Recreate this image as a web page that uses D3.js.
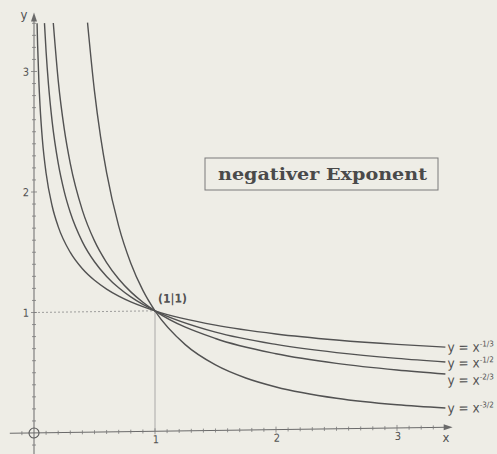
<!DOCTYPE html>
<html>
<head>
<meta charset="utf-8">
<script src="https://cdn.jsdelivr.net/npm/d3@7"></script>
<style>
  html, body { margin: 0; padding: 0; background: #eeede6; }
  svg { display: block; }
</style>
</head>
<body>
<script>
// points (x, y in axis units)
var xThird = [0.0254, 0.03, 0.04, 0.05, 0.07, 0.1, 0.15, 0.2, 0.3, 0.4, 0.5, 0.6, 0.7, 0.8, 0.9, 1, 1.5, 2, 2.5, 3, 3.4];
var yThird = [3.4, 3.218, 2.924, 2.714, 2.426, 2.154, 1.882, 1.71, 1.494, 1.357, 1.26, 1.186, 1.126, 1.077, 1.036, 1, 0.874, 0.794, 0.737, 0.693, 0.665];

var xHalf = [0.0865, 0.1, 0.12, 0.15, 0.2, 0.25, 0.3, 0.4, 0.5, 0.6, 0.7, 0.8, 0.9, 1, 1.5, 2, 2.5, 3, 3.4];
var yHalf = [3.4, 3.162, 2.887, 2.582, 2.236, 2.0, 1.826, 1.581, 1.414, 1.291, 1.195, 1.118, 1.054, 1, 0.816, 0.707, 0.632, 0.577, 0.542];

var xTwoThirds = [0.1595, 0.2, 0.25, 0.3, 0.4, 0.5, 0.6, 0.7, 0.8, 0.9, 1, 1.5, 2, 2.5, 3, 3.4];
var yTwoThirds = [3.4, 2.924, 2.52, 2.231, 1.842, 1.587, 1.406, 1.268, 1.16, 1.073, 1, 0.763, 0.63, 0.543, 0.481, 0.442];

var xThreeHalves = [0.4423, 0.5, 0.55, 0.6, 0.7, 0.8, 0.9, 1, 1.25, 1.5, 1.75, 2, 2.5, 3, 3.4];
var yThreeHalves = [3.4, 2.828, 2.452, 2.152, 1.707, 1.398, 1.171, 1, 0.716, 0.544, 0.432, 0.354, 0.253, 0.192, 0.16];

var curveLabels = ['-1/3', '-1/2', '-2/3', '-3/2'];
var xTickLabels = [1, 2, 3];
var yTickLabels = [1, 2, 3];
var title = 'negativer Exponent';
var pointLabel = '(1|1)';

var width = 497, height = 454;
var originX = 34, originY = 433;
var ink = '#525252';
var condensed = '"DejaVu Sans Condensed", "Liberation Sans Narrow", sans-serif';

var xScale = d3.scaleLinear().domain([0, 1]).range([0, 121]);
var yScale = d3.scaleLinear().domain([0, 1]).range([0, -120.5]);

var svg = d3.select('body').append('svg')
    .attr('width', width)
    .attr('height', height);

svg.append('rect')
    .attr('width', width)
    .attr('height', height)
    .attr('fill', '#eeede6');

// the printed page is slightly skewed, so the plot group is too
var g = svg.append('g')
    .attr('transform', 'translate(' + originX + ',' + originY + ') skewY(-0.8)');

// guide lines to (1|1)
g.append('line')
    .attr('x1', xScale(0)).attr('y1', yScale(1))
    .attr('x2', xScale(1)).attr('y2', yScale(1))
    .attr('stroke', '#8a8a8a')
    .attr('stroke-width', 0.8)
    .attr('stroke-dasharray', '2,2');

g.append('line')
    .attr('x1', xScale(1)).attr('y1', yScale(1))
    .attr('x2', xScale(1)).attr('y2', yScale(0))
    .attr('stroke', '#9a9a9a')
    .attr('stroke-width', 0.8);

// axes
g.append('line')
    .attr('x1', xScale(-0.2)).attr('y1', 0)
    .attr('x2', xScale(3.42)).attr('y2', 0)
    .attr('stroke', '#6a6a6a')
    .attr('stroke-width', 1);

g.append('path')
    .attr('d', 'M' + xScale(3.46) + ',0 l-9,-3 l0,6 z')
    .attr('fill', '#6a6a6a');

g.append('line')
    .attr('x1', 0).attr('y1', yScale(-0.18))
    .attr('x2', 0).attr('y2', yScale(3.44))
    .attr('stroke', '#6a6a6a')
    .attr('stroke-width', 1);

g.append('path')
    .attr('d', 'M0,' + yScale(3.49) + ' l-3,9 l6,0 z')
    .attr('fill', '#6a6a6a');

var xMinor = d3.range(-1, 34).map(function(i) { return i / 10; }).filter(function(v) { return v !== 0; });
var yMinor = d3.range(-1, 35).map(function(i) { return i / 10; }).filter(function(v) { return v !== 0; });

g.selectAll('.xtick')
  .data(xMinor)
  .enter()
  .append('line')
    .attr('class', 'xtick')
    .attr('x1', function(d) { return xScale(d); })
    .attr('x2', function(d) { return xScale(d); })
    .attr('y1', function(d) { return Math.abs(d % 1) < 1e-9 ? -3 : -2; })
    .attr('y2', function(d) { return Math.abs(d % 1) < 1e-9 ? 3 : 2; })
    .attr('stroke', '#7a7a7a')
    .attr('stroke-width', 0.8);

g.selectAll('.ytick')
  .data(yMinor)
  .enter()
  .append('line')
    .attr('class', 'ytick')
    .attr('y1', function(d) { return yScale(d); })
    .attr('y2', function(d) { return yScale(d); })
    .attr('x1', function(d) { return Math.abs(d % 1) < 1e-9 ? -3 : -2; })
    .attr('x2', function(d) { return Math.abs(d % 1) < 1e-9 ? 3 : 2; })
    .attr('stroke', '#7a7a7a')
    .attr('stroke-width', 0.8);

g.selectAll('.xlabel')
  .data(xTickLabels)
  .enter()
  .append('text')
    .attr('class', 'xlabel')
    .attr('x', function(d) { return xScale(d) + 1; })
    .attr('y', 12)
    .attr('text-anchor', 'middle')
    .attr('font-family', condensed)
    .attr('font-size', 11)
    .attr('fill', ink)
    .text(function(d) { return d; });

g.selectAll('.ylabel')
  .data(yTickLabels)
  .enter()
  .append('text')
    .attr('class', 'ylabel')
    .attr('x', -5)
    .attr('y', function(d) { return yScale(d) + 4; })
    .attr('text-anchor', 'end')
    .attr('font-family', condensed)
    .attr('font-size', 11)
    .attr('fill', ink)
    .text(function(d) { return d; });

g.append('circle')
    .attr('cx', 0)
    .attr('cy', 0)
    .attr('r', 5)
    .attr('fill', 'none')
    .attr('stroke', '#5a5a5a')
    .attr('stroke-width', 1.1);

// curves
var series = [
  {xs: xThird, ys: yThird},
  {xs: xHalf, ys: yHalf},
  {xs: xTwoThirds, ys: yTwoThirds},
  {xs: xThreeHalves, ys: yThreeHalves}
];

var line = d3.line()
    .x(function(d) { return xScale(d[0]); })
    .y(function(d) { return yScale(d[1]); })
    .curve(d3.curveMonotoneX);

series.forEach(function(s) {
  g.append('path')
      .attr('d', line(d3.zip(s.xs, s.ys)))
      .attr('fill', 'none')
      .attr('stroke', ink)
      .attr('stroke-width', 1.4);
});

// curve labels
var labelShift = [0, 1, 6, 0];
series.forEach(function(s, i) {
  var n = s.xs.length - 1;
  var t = g.append('text')
      .attr('x', xScale(s.xs[n]) + 2)
      .attr('y', yScale(s.ys[n]) + 5 + labelShift[i])
      .attr('font-family', condensed)
      .attr('font-size', 13.5)
      .attr('fill', ink);
  t.append('tspan').text('y = x');
  t.append('tspan')
      .attr('dy', -5)
      .attr('font-size', 8)
      .text(curveLabels[i]);
});

g.append('text')
    .attr('x', xScale(1) + 3)
    .attr('y', yScale(1) - 8)
    .attr('font-family', condensed)
    .attr('font-weight', 'bold')
    .attr('font-size', 12)
    .attr('fill', ink)
    .text(pointLabel);

// axis names
svg.append('text')
    .attr('x', 446)
    .attr('y', 442)
    .attr('text-anchor', 'middle')
    .attr('font-family', condensed)
    .attr('font-size', 13)
    .attr('fill', ink)
    .text('x');

svg.append('text')
    .attr('x', 24)
    .attr('y', 19)
    .attr('text-anchor', 'middle')
    .attr('font-family', condensed)
    .attr('font-size', 13)
    .attr('fill', ink)
    .text('y');

// title box
svg.append('rect')
    .attr('x', 205)
    .attr('y', 158)
    .attr('width', 233)
    .attr('height', 32)
    .attr('fill', 'none')
    .attr('stroke', '#7a7a7a')
    .attr('stroke-width', 1);

svg.append('text')
    .attr('x', 218)
    .attr('y', 180)
    .attr('font-family', '"DejaVu Serif", "Liberation Serif", serif')
    .attr('font-weight', 'bold')
    .attr('font-size', 17)
    .attr('textLength', 209)
    .attr('lengthAdjust', 'spacingAndGlyphs')
    .attr('fill', '#4a4a4a')
    .text(title);
</script>
</body>
</html>
